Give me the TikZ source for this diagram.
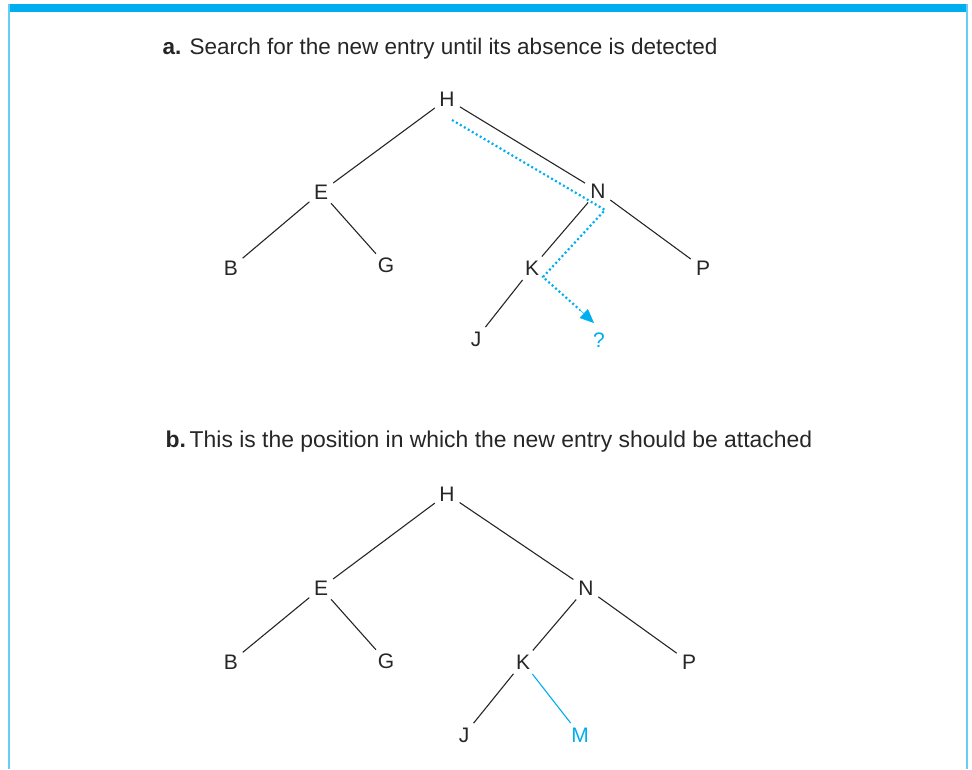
\documentclass[tikz,border=0pt]{standalone}
\usepackage{fontspec}
\setmainfont{Liberation Sans}
\usetikzlibrary{arrows.meta}
\definecolor{cyanb}{RGB}{0,174,239}
\begin{document}
\begin{tikzpicture}[x=1pt,y=-1pt,
  lbl/.style={circle,inner sep=0pt,minimum size=30pt,font=\fontsize{21}{23}\selectfont,text=black!85},
  edge/.style={line width=1.1pt,black!85},
  bedge/.style={line width=1.1pt,cyanb},
  path/.style={line width=2.2pt,cyanb,dash pattern=on 2pt off 2.6pt},
  title/.style={font=\fontsize{22.5}{25}\selectfont,text=black!85,anchor=west}]
\useasboundingbox (0,0) rectangle (972,769);
% frame
\fill[cyanb] (9,4) rectangle (968,12);
\draw[cyanb!60,line width=1.2pt] (9,4) -- (9,769);
\draw[cyanb!60,line width=1.2pt] (967,4) -- (967,769);
% panel a
\node[title] (ta) at (159,49) {\textbf{a.} Search for the new entry until its absence is detected};
\node[lbl] (aH) at (447,99) {H};
\node[lbl] (aE) at (321,192) {E};
\node[lbl] (aN) at (598,191) {N};
\node[lbl] (aB) at (231,268) {B};
\node[lbl] (aG) at (386,265) {G};
\node[lbl] (aK) at (532,268) {K};
\node[lbl] (aP) at (703,268) {P};
\node[lbl] (aJ) at (476,339) {J};
\node[lbl,text=cyanb] (aQ) at (599,340) {?};
\draw[edge] (aH) -- (aE);
\draw[edge] (aH) -- (aN);
\draw[edge] (aE) -- (aB);
\draw[edge] (aE) -- (aG);
\draw[edge] (aN) -- (aK);
\draw[edge] (aN) -- (aP);
\draw[edge] (aK) -- (aJ);
\coordinate (p1) at (452,120);
\coordinate (p2) at (605,210);
\coordinate (p3) at (543,277);
\coordinate (p4) at (580,310);
\coordinate (p5) at (594,323);
\draw[path] (p1) -- (p2) -- (p3) -- (p4);
\draw[cyanb,line width=0.5pt,-{Triangle[length=14pt,width=12pt]}] (p4) -- (p5);
% panel b
\node[title,font=\fontsize{22.9}{25}\selectfont] (tb) at (162,442) {\textbf{b.}\,This is the position in which the new entry should be attached};
\node[lbl] (bH) at (447,494) {H};
\node[lbl] (bE) at (321,588) {E};
\node[lbl] (bN) at (586,588) {N};
\node[lbl] (bB) at (231,662) {B};
\node[lbl] (bG) at (386,661) {G};
\node[lbl] (bK) at (523,662) {K};
\node[lbl] (bP) at (689,662) {P};
\node[lbl] (bJ) at (464,735) {J};
\node[lbl,text=cyanb] (bM) at (580,735) {M};
\draw[edge] (bH) -- (bE);
\draw[edge] (bH) -- (bN);
\draw[edge] (bE) -- (bB);
\draw[edge] (bE) -- (bG);
\draw[edge] (bN) -- (bK);
\draw[edge] (bN) -- (bP);
\draw[edge] (bK) -- (bJ);
\draw[bedge] (bK) -- (bM);
\end{tikzpicture}
\end{document}
